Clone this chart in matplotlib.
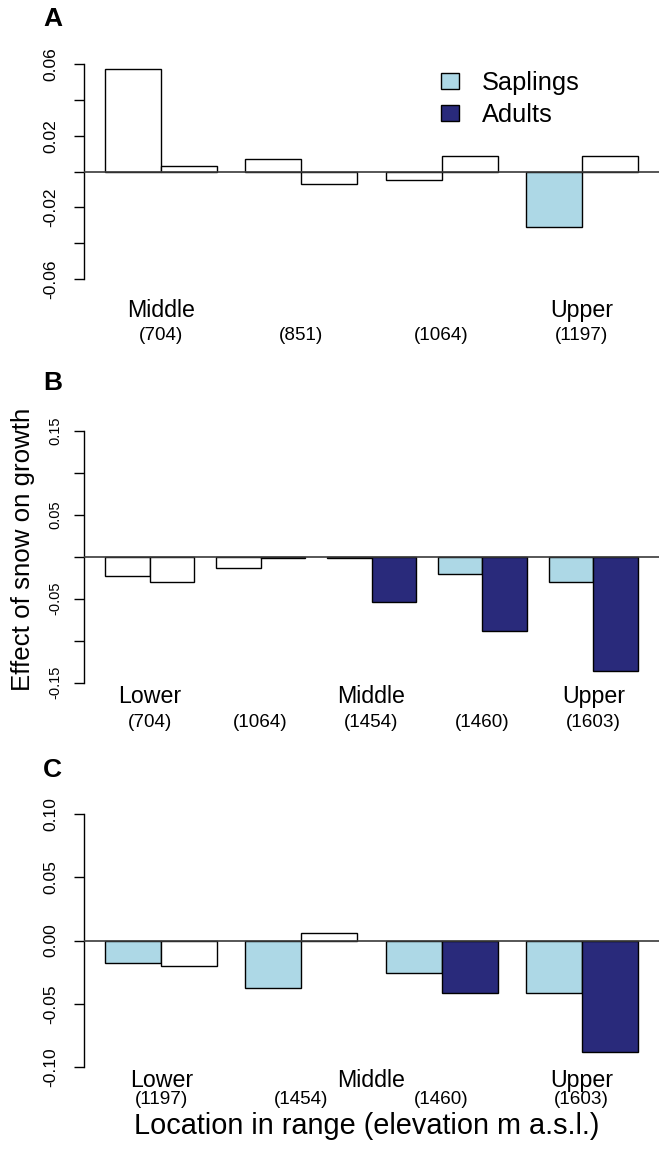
import matplotlib
matplotlib.use("Agg")
import matplotlib.pyplot as plt
from matplotlib.patches import Patch
import matplotlib.transforms as mtrans

plt.rcParams['font.family'] = ['Liberation Sans', 'DejaVu Sans']

# ---------------- data ----------------
# Panel A
A_elev = ["(704)", "(851)", "(1064)", "(1197)"]
A_names = ["Middle", "", "", "Upper"]
A_sap = [0.0571, 0.0071, -0.0050, -0.0309]
A_adu = [0.0032, -0.0067, 0.0089, 0.0089]
A_sap_sig = [False, False, False, True]
A_adu_sig = [False, False, False, False]
A_ticks = [0.06, 0.04, 0.02, 0.0, -0.02, -0.04, -0.06]
A_tlabels = ["0.06", "", "0.02", "", "-0.02", "", "-0.06"]

# Panel B
B_elev = ["(704)", "(1064)", "(1454)", "(1460)", "(1603)"]
B_names = ["Lower", "", "Middle", "", "Upper"]
B_sap = [-0.0230, -0.0135, -0.0020, -0.0202, -0.0306]
B_adu = [-0.0298, -0.0015, -0.0544, -0.0881, -0.1357]
B_sap_sig = [False, False, False, True, True]
B_adu_sig = [False, False, True, True, True]
B_ticks = [0.15, 0.10, 0.05, 0.0, -0.05, -0.10, -0.15]
B_tlabels = ["0.15", "", "0.05", "", "-0.05", "", "-0.15"]

# Panel C
C_elev = ["(1197)", "(1454)", "(1460)", "(1603)"]
C_names = [("Lower", 0.0), ("Middle", 1.5), ("Upper", 3.0)]
C_sap = [-0.0179, -0.0372, -0.0258, -0.0414]
C_adu = [-0.0203, 0.0063, -0.0414, -0.0880]
C_sap_sig = [True, True, True, True]
C_adu_sig = [False, False, True, True]
C_ticks = [0.10, 0.05, 0.0, -0.05, -0.10]
C_tlabels = ["0.10", "0.05", "0.00", "-0.05", "-0.10"]

legend_labels = ["Saplings", "Adults"]
y_label = "Effect of snow on growth"
x_label = "Location in range (elevation m a.s.l.)"

# ---------------- style ----------------
SAP_COL = "#ADD8E6"
ADU_COL = "#292A7B"
NS_COL = "white"
W, H = 659, 1149

fig = plt.figure(figsize=(W / 100, H / 100), dpi=100)


def ax_px(left, top, right, bottom):
    return fig.add_axes([left / W, 1 - bottom / H, (right - left) / W, (bottom - top) / H])


def panel(ax, sap, adu, sap_sig, adu_sig, ticks, tlabels, tick_fs, tick_pad):
    n = len(sap)
    space = 0.5
    sap_x = [space + g * (2 + space) for g in range(n)]
    adu_x = [x + 1 for x in sap_x]
    ax.bar(sap_x, sap, width=1, align='edge',
           color=[SAP_COL if s else NS_COL for s in sap_sig],
           edgecolor='black', linewidth=1.0, zorder=2)
    ax.bar(adu_x, adu, width=1, align='edge',
           color=[ADU_COL if s else NS_COL for s in adu_sig],
           edgecolor='black', linewidth=1.0, zorder=2)
    lo, hi = space, adu_x[-1] + 1
    ext = 0.04 * (hi - lo)
    ax.set_xlim(lo - ext, hi + ext)
    ymin, ymax = min(ticks), max(ticks)
    yext = 0.04 * (ymax - ymin)
    ax.set_ylim(ymin - yext, ymax + yext)
    ax.axhline(0, color='#3a3a3a', linewidth=1.2, zorder=3)
    for s in ['top', 'right', 'bottom']:
        ax.spines[s].set_visible(False)
    ax.spines['left'].set_bounds(ymin, ymax)
    ax.spines['left'].set_linewidth(1.0)
    ax.set_xticks([])
    ax.set_yticks(ticks)
    ax.set_yticklabels(tlabels, rotation=90, va='center', fontsize=tick_fs)
    ax.tick_params(axis='y', length=7.5, width=1.0, pad=tick_pad, colors='black')
    ax.patch.set_alpha(0)
    return [x + 1 for x in sap_x]


def ftext(ax, x, y_px, s, fs, **kw):
    tr = mtrans.blended_transform_factory(ax.transData, fig.transFigure)
    ax.text(x, 1 - y_px / H, s, transform=tr, fontsize=fs, ha='center', va='baseline', **kw)


axA = ax_px(84, 55.4, 659, 287.6)
cA = panel(axA, A_sap, A_adu, A_sap_sig, A_adu_sig, A_ticks, A_tlabels, 12.5, 11)
for g, (nm, el) in enumerate(zip(A_names, A_elev)):
    if nm:
        ftext(axA, cA[g], 316.7, nm, 16.7)
    ftext(axA, cA[g], 340, el, 13.6)

axB = ax_px(84, 420.6, 659, 692.8)
cB = panel(axB, B_sap, B_adu, B_sap_sig, B_adu_sig, B_ticks, B_tlabels, 10.5, 8.3)
for g, (nm, el) in enumerate(zip(B_names, B_elev)):
    if nm:
        ftext(axB, cB[g], 703, nm, 16.7)
    ftext(axB, cB[g], 727, el, 13.6)

axC = ax_px(84, 803.9, 659, 1077.1)
cC = panel(axC, C_sap, C_adu, C_sap_sig, C_adu_sig, C_ticks, C_tlabels, 12.5, 11)
for nm, gpos in C_names:
    gi = int(gpos)
    frac = gpos - gi
    xpos = cC[gi] + (cC[min(gi + 1, len(cC) - 1)] - cC[gi]) * frac
    ftext(axC, xpos, 1087, nm, 16.7)
for g, el in enumerate(C_elev):
    ftext(axC, cC[g], 1104, el, 13.6)

# panel letters
for letter, yb in [("A", 26), ("B", 390), ("C", 777)]:
    fig.text(43 / W, 1 - yb / H, letter, fontsize=19, fontweight='bold', ha='left', va='baseline')

# axis titles
fig.text(23 / W, 1 - 549 / H, y_label, rotation=90, ha='center', va='center', fontsize=18.6)
fig.text(367 / W, 1 - 1134 / H, x_label, ha='center', va='baseline', fontsize=20.8)

# legend
handles = [Patch(facecolor=SAP_COL, edgecolor='black', linewidth=1.0),
           Patch(facecolor=ADU_COL, edgecolor='black', linewidth=1.0)]
fig.legend(handles, legend_labels, loc='upper left', bbox_to_anchor=(441 / W, 1 - 71 / H),
           frameon=False, fontsize=18.3, handlelength=0.71, handleheight=0.59,
           handletextpad=0.9, labelspacing=0.33, borderpad=0, borderaxespad=0)

fig.savefig("out.png", dpi=100)
